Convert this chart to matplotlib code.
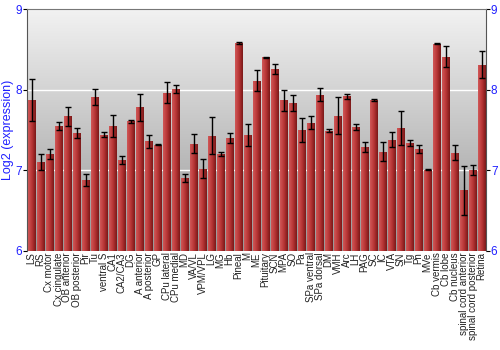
import numpy as np
import matplotlib
matplotlib.use("Agg")
import matplotlib.pyplot as plt
from matplotlib.colors import LinearSegmentedColormap

plt.rcParams['font.family'] = ['Liberation Sans', 'DejaVu Sans']

regions = ["LS", "RS", "Cx motor", "Cx cingulate", "OB anterior", "OB posterior", "Pir", "Tu",
           "ventral S", "CA1", "CA2/CA3", "DG", "A anterior", "A posterior", "GP", "CPu lateral",
           "CPu medial", "MD", "VA/VL", "VPM/VPL", "LG", "MG", "Hb", "Pineal", "M", "ME",
           "Pituitary", "SCN", "MPA", "SO", "Pa", "SPa ventral", "SPa dorsal", "DM", "VMH", "Arc",
           "LH", "PAG", "SC", "IC", "VTA", "SN", "Tg", "Pn", "MVe", "Cb vermis", "Cb lobe",
           "Cb nucleus", "spinal cord anterior", "spinal cord posterior", "Retina"]
expression = [7.87, 7.10, 7.20, 7.55, 7.67, 7.46, 6.88, 7.91,
              7.44, 7.55, 7.13, 7.61, 7.78, 7.36, 7.32, 7.96,
              8.01, 6.91, 7.33, 7.02, 7.43, 7.20, 7.40, 8.58, 7.44, 8.11,
              8.40, 8.26, 7.87, 7.83, 7.50, 7.59, 7.94, 7.49, 7.68, 7.92,
              7.54, 7.29, 7.87, 7.23, 7.38, 7.52, 7.34, 7.26, 7.01, 8.57, 8.41,
              7.22, 6.75, 7.00, 8.31]
error = [0.26, 0.10, 0.06, 0.05, 0.12, 0.06, 0.08, 0.10,
         0.03, 0.14, 0.05, 0.02, 0.17, 0.08, 0.01, 0.13,
         0.05, 0.05, 0.12, 0.12, 0.23, 0.025, 0.06, 0.01, 0.14, 0.13,
         0.01, 0.06, 0.13, 0.10, 0.15, 0.08, 0.08, 0.02, 0.23, 0.03,
         0.035, 0.06, 0.015, 0.12, 0.09, 0.21, 0.04, 0.05, 0.005, 0.005, 0.13,
         0.09, 0.30, 0.06, 0.17]

x = np.arange(len(regions))
blue = '#1f1fff'

fig = plt.figure(figsize=(5, 3.5), dpi=100)
ax = fig.add_axes([0.054, 0.283, 0.918, 0.691])
ax.set_xlim(-0.5, len(regions) - 0.5)
ax.set_ylim(6, 9)

# grey gradient background
bg = LinearSegmentedColormap.from_list('bg', ['#979797', '#f2f2f2'])
grad = np.linspace(0, 1, 256).reshape(-1, 1)
ax.imshow(grad, cmap=bg, origin='lower', aspect='auto',
          extent=[-0.5, len(regions) - 0.5, 6, 9], zorder=0)

for yv in [7, 8]:
    ax.axhline(yv, color='white', lw=1.0, zorder=1)

bars = ax.bar(x, np.array(expression) - 6, bottom=6, width=0.86,
              color='#b03030', zorder=2)

# horizontal shading on each bar
barcmap = LinearSegmentedColormap.from_list('bar', ['#d05858', '#b83535', '#7a1818'])
hgrad = np.linspace(0, 1, 64).reshape(1, -1)
for b in bars:
    im = ax.imshow(hgrad, cmap=barcmap, aspect='auto',
                   extent=[b.get_x(), b.get_x() + b.get_width(), 6, b.get_y() + b.get_height()],
                   zorder=2.5)
    im.set_clip_path(b)

ax.errorbar(x, expression, yerr=error, fmt='none', ecolor='black',
            elinewidth=1, capsize=2, capthick=1, zorder=3)

ax.set_xticks(x)
ax.set_xticklabels(regions, rotation=90, fontsize=7, color='#222222')
ax.tick_params(axis='x', length=0, pad=1)

ax.set_yticks([6, 7, 8, 9])
ax.tick_params(axis='y', colors='black', labelcolor=blue, labelsize=8.5,
               length=3, pad=0.5, right=True, labelright=True)
ax.set_ylabel('Log2 (expression)', color=blue, fontsize=9)
ax.yaxis.set_label_coords(-0.028, 0.5)

for side in ['left', 'right']:
    ax.spines[side].set_color('#555555')
ax.spines['top'].set_color('#777777')
ax.spines['bottom'].set_visible(False)

fig.savefig('out.png', dpi=100)
